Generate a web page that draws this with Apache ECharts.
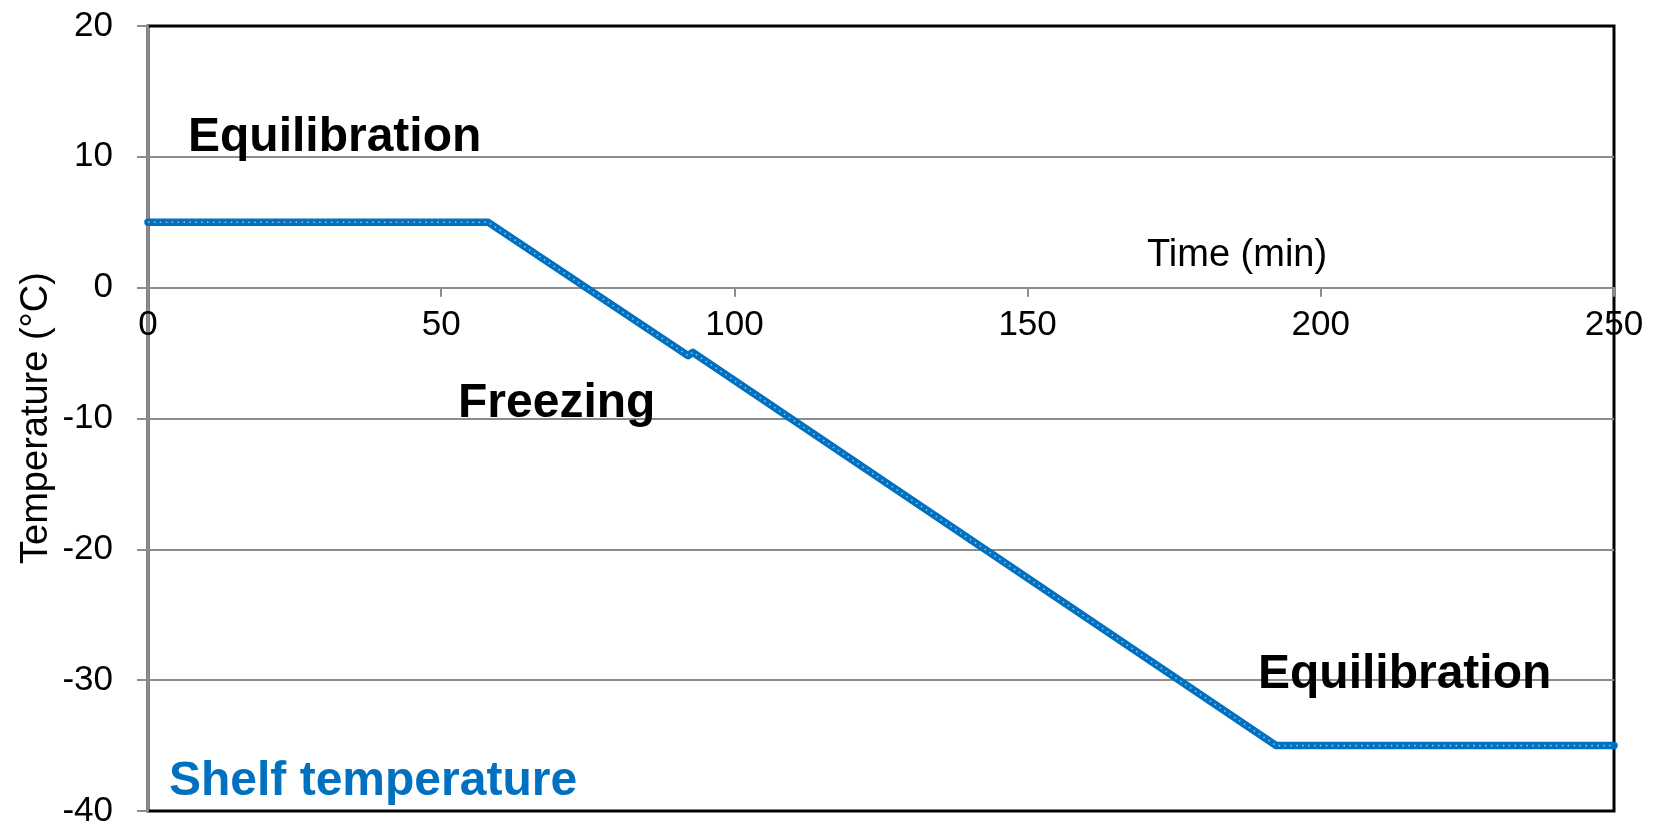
<!DOCTYPE html>
<html>
<head>
<meta charset="utf-8">
<script src="https://cdn.jsdelivr.net/npm/echarts@6/dist/echarts.min.js"></script>
<style>
html,body{margin:0;padding:0;background:#fff;}
#chart{width:1657px;height:826px;}
</style>
</head>
<body>
<div id="chart"></div>
<script>
// Data
const timeMin   = [0, 58, 92.1, 92.9, 192.4, 250];
const shelfTemp = [5, 5, -5.2, -4.95, -35, -35];
const xTicks = [0, 50, 100, 150, 200, 250];
const yTicks = [-40, -30, -20, -10, 0, 10, 20];
const seriesName = 'Shelf temperature';
const labels = {
  xName: 'Time (min)',
  yName: 'Temperature (°C)',
  phase1: 'Equilibration',
  phase2: 'Freezing',
  phase3: 'Equilibration'
};

const FONT = '"Liberation Sans", Arial, Helvetica, sans-serif';
const BLUE = '#0070C0';
const GRAY = '#8c8c8c';
const points = timeMin.map((t, i) => [t, shelfTemp[i]]);

// Plot box in pixels
const G = {left: 148, right: 43, top: 26, bottom: 15};
const plotH = 826 - G.top - G.bottom;
const yMin = yTicks[0], yMax = yTicks[yTicks.length - 1];
const zeroFromTop = plotH * (yMax - 0) / (yMax - yMin);

const chart = echarts.init(document.getElementById('chart'), null, {renderer: 'canvas'});
chart.setOption({
  animation: false,
  backgroundColor: '#fff',
  grid: [
    {
      left: G.left, right: G.right, top: G.top, bottom: G.bottom,
      containLabel: false, outerBoundsMode: 'none',
      show: true, borderColor: '#000', borderWidth: 3, backgroundColor: 'transparent'
    },
    {
      // upper part (0..20) only carries the x-axis labels on the zero line
      left: G.left, right: G.right, top: G.top, height: zeroFromTop,
      containLabel: false, outerBoundsMode: 'none', show: false
    }
  ],
  xAxis: [
    {
      gridIndex: 0, type: 'value',
      min: xTicks[0], max: xTicks[xTicks.length - 1], interval: 50,
      axisLine: {show: false},
      axisTick: {show: false},
      axisLabel: {show: false},
      splitLine: {show: false}
    },
    {
      gridIndex: 1, type: 'value', position: 'bottom',
      min: xTicks[0], max: xTicks[xTicks.length - 1], interval: 50,
      axisLine: {show: true, onZero: false, lineStyle: {color: GRAY, width: 2}},
      axisTick: {show: true, inside: false, length: 9, lineStyle: {color: GRAY, width: 2}},
      axisLabel: {color: '#000', fontSize: 35, fontFamily: FONT, margin: 20, showMinLabel: true, showMaxLabel: true},
      splitLine: {show: false}
    }
  ],
  yAxis: [
    {
      gridIndex: 0, type: 'value',
      min: yMin, max: yMax, interval: 10,
      axisLine: {show: true, onZero: false, lineStyle: {color: GRAY, width: 2}},
      axisTick: {show: true, inside: false, length: 11, lineStyle: {color: GRAY, width: 2}},
      axisLabel: {color: '#000', fontSize: 35, fontFamily: FONT, margin: 35},
      splitLine: {show: true, showMinLine: false, showMaxLine: false, lineStyle: {color: GRAY, width: 2}}
    },
    {
      gridIndex: 1, type: 'value', min: 0, max: yMax,
      show: false
    }
  ],
  series: [
    {
      name: seriesName,
      type: 'line',
      xAxisIndex: 0, yAxisIndex: 0,
      data: points,
      showSymbol: false,
      symbol: 'none',
      lineStyle: {color: BLUE, width: 7.5, cap: 'round', join: 'round'},
      z: 5
    },
    {
      name: seriesName + ' markers',
      type: 'line',
      xAxisIndex: 0, yAxisIndex: 0,
      data: points,
      showSymbol: false,
      symbol: 'none',
      lineStyle: {color: '#8dbde6', width: 1.6, type: [1.6, 4.3]},
      z: 6,
      silent: true
    }
  ],
  graphic: [
    {type: 'text', z: 100, x: 1147, y: 256, style: {text: labels.xName, font: '38px ' + FONT, fill: '#000', align: 'left', verticalAlign: 'middle'}},
    {type: 'text', z: 100, x: 37, y: 418, rotation: Math.PI / 2, style: {text: labels.yName, font: '38px ' + FONT, fill: '#000', align: 'center', verticalAlign: 'middle'}},
    {type: 'text', z: 100, x: 188, y: 138, style: {text: labels.phase1, font: 'bold 48px ' + FONT, fill: '#000', align: 'left', verticalAlign: 'middle'}},
    {type: 'text', z: 100, x: 458, y: 404, style: {text: labels.phase2, font: 'bold 48px ' + FONT, fill: '#000', align: 'left', verticalAlign: 'middle'}},
    {type: 'text', z: 100, x: 1258, y: 675, style: {text: labels.phase3, font: 'bold 48px ' + FONT, fill: '#000', align: 'left', verticalAlign: 'middle'}},
    {type: 'text', z: 100, x: 169, y: 782, style: {text: seriesName, font: 'bold 48px ' + FONT, fill: BLUE, align: 'left', verticalAlign: 'middle'}}
  ]
});
</script>
</body>
</html>
